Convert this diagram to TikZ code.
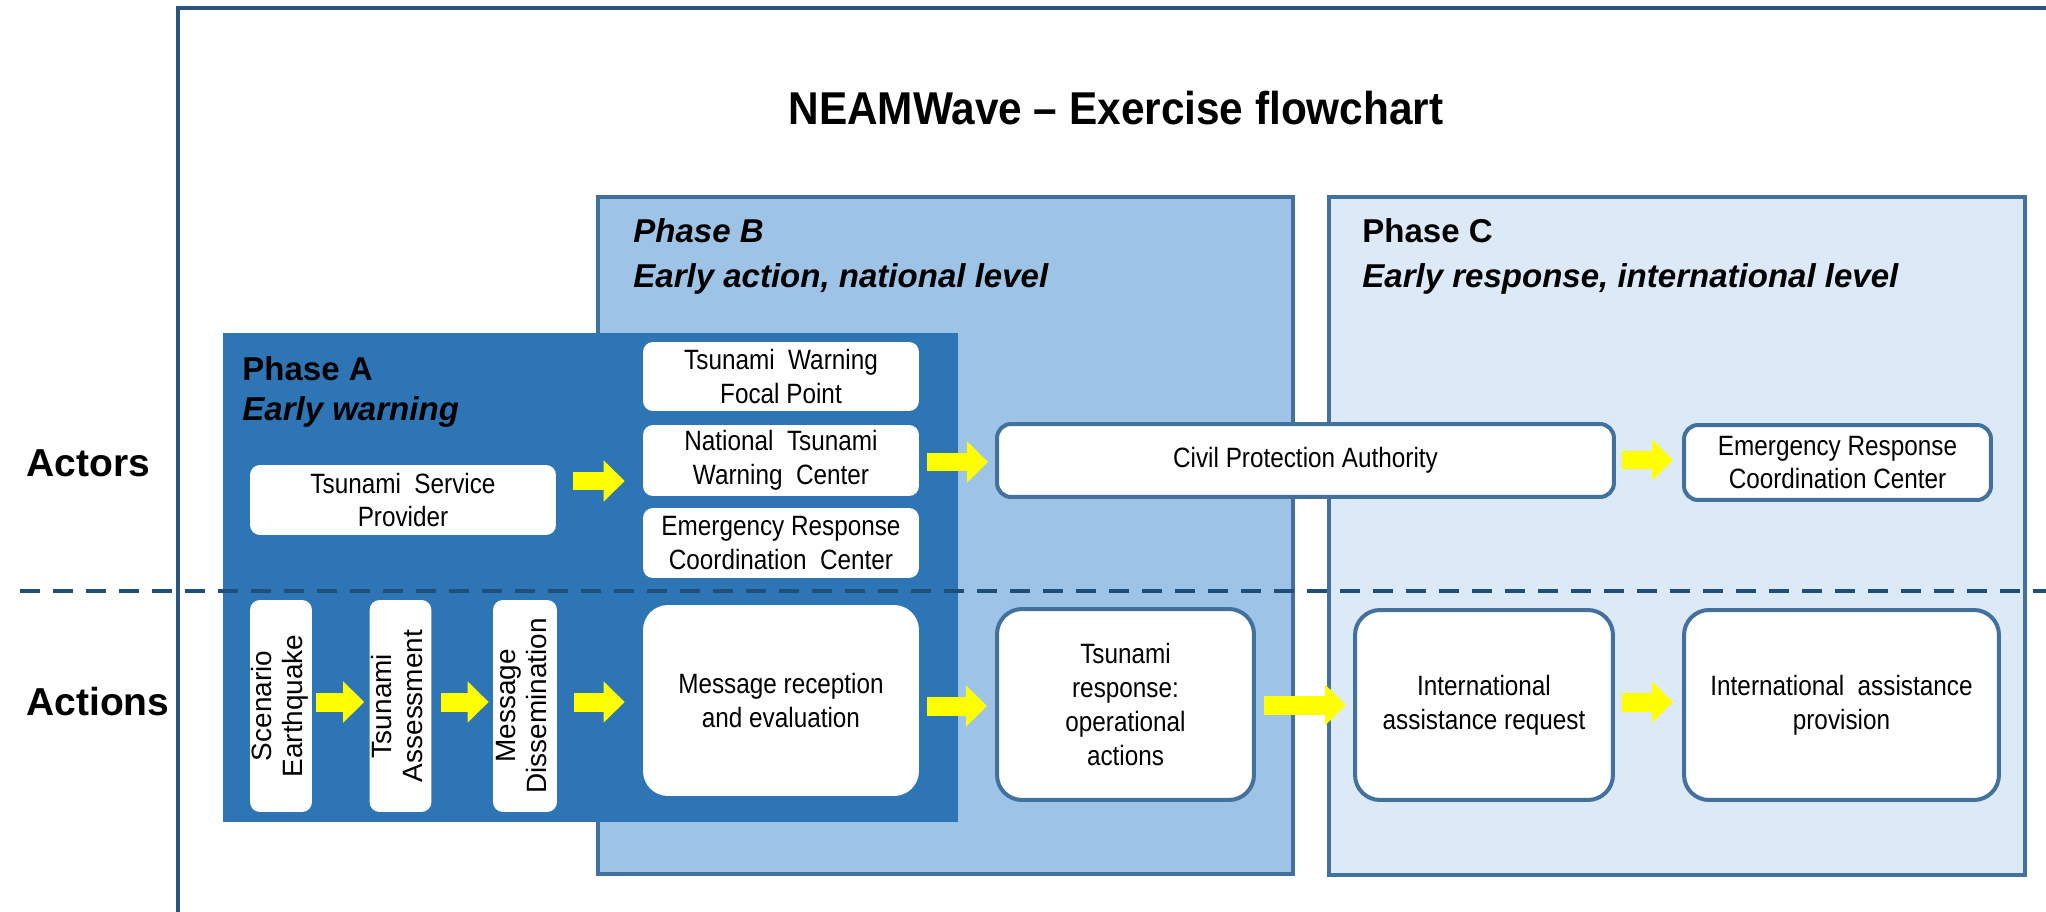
\documentclass[tikz,border=0pt]{standalone}
\usepackage{fontspec}
\usepackage{graphicx}
\setmainfont{Liberation Sans}
\newfontfamily\narrowf[FakeStretch=0.87]{Liberation Sans}
\newfontfamily\titlef[FakeStretch=0.92]{Liberation Sans}
\usetikzlibrary{arrows.meta}
\definecolor{frameblue}{HTML}{2B5481}
\definecolor{phaseA}{HTML}{2E75B6}
\definecolor{phaseB}{HTML}{9DC3E6}
\definecolor{phaseC}{HTML}{DCE9F6}
\definecolor{edgeblue}{HTML}{41719C}
\definecolor{dashblue}{HTML}{1F4E79}
\definecolor{arrowyellow}{HTML}{FFFF00}
\begin{document}
\begin{tikzpicture}[x=0.02cm,y=-0.02cm,
  box/.style={fill=white, rounded corners=0.2cm, inner sep=0pt, align=center,
    font=\narrowf\fontsize{15.9}{19.3}\selectfont},
  bbox/.style={box, draw=edgeblue, line width=0.08cm, rounded corners=0.28cm},
  bigbox/.style={box, rounded corners=0.5cm},
  bigbbox/.style={bbox, rounded corners=0.5cm},
  vbox/.style={fill=white, rounded corners=0.2cm, inner sep=0pt,
    font=\fontsize{15.9}{17.6}\selectfont},
  yarr/.style={arrowyellow, line width=0.38cm, -{Triangle[length=0.42cm,width=0.8cm]}},
  phasehead/.style={anchor=base west, inner sep=0pt, font=\bfseries\fontsize{18.8}{22}\selectfont},
  phaseheadit/.style={phasehead, font=\bfseries\itshape\fontsize{18.8}{22}\selectfont},
  rowlabel/.style={anchor=base west, inner sep=0pt, font=\bfseries\fontsize{22.2}{26}\selectfont}]
\clip (0,0) rectangle (2046,912);
\fill[white] (0,0) rectangle (2046,912);
% outer frame
\draw[frameblue, line width=0.08cm] (178,1000) -- (178,8) -- (2100,8);
% title
\node[anchor=base, inner sep=0pt, font=\titlef\bfseries\fontsize{26.2}{30}\selectfont] (title) at (1116,125) {NEAMWave – Exercise flowchart};
% phase panels
\draw[fill=phaseB, draw=edgeblue, line width=0.08cm] (598,197) rectangle (1293,874);
\draw[fill=phaseC, draw=edgeblue, line width=0.08cm] (1329,197) rectangle (2025,875);
\fill[phaseA] (223,333) rectangle (958,822);
% phase headings
\node[phasehead] (pa) at (242,380) {Phase A};
\node[phaseheadit] (pae) at (242,420) {Early warning};
\node[phaseheadit] (pb) at (633,243) {Phase B};
\node[phaseheadit] (pbe) at (633,288) {Early action, national level};
\node[phasehead] (pc) at (1362,243) {Phase C};
\node[phaseheadit] (pce) at (1362,288) {Early response, international level};
% row labels
\node[rowlabel] (actors) at (26,476) {Actors};
\node[rowlabel] (actions) at (26,715) {Actions};
% dashed separator
\draw[dashblue, line width=0.09cm, dash pattern=on 0.4cm off 0.26cm] (20,591) -- (2046,591);
% actor nodes
\node[box, minimum width=6.12cm, minimum height=1.40cm] (tsp) at (403,500) {Tsunami\ \ Service\\Provider};
\node[box, minimum width=5.52cm, minimum height=1.38cm] (twfp) at (781,376.5) {Tsunami\ \ Warning\\Focal Point};
\node[box, minimum width=5.52cm, minimum height=1.42cm] (ntwc) at (781,460.5) {National\ \ Tsunami\\Warning\ \ Center};
\node[box, minimum width=5.52cm, minimum height=1.40cm] (ercca) at (781,543) {Emergency Response\\Coordination\ \ Center};
\node[bbox, minimum width=12.34cm, minimum height=1.46cm] (cpa) at (1305.5,460.5) {Civil Protection Authority};
\node[bbox, minimum width=6.14cm, minimum height=1.50cm] (erccc) at (1837.5,462.5) {Emergency Response\\Coordination Center};
% action nodes
\node[vbox, minimum width=1.24cm, minimum height=4.24cm] (se) at (281,706) {\rotatebox{90}{\begin{tabular}{@{}c@{}}Scenario\\Earthquake\end{tabular}}};
\node[vbox, minimum width=1.22cm, minimum height=4.24cm] (ta) at (400.5,706) {\rotatebox{90}{\begin{tabular}{@{}c@{}}Tsunami\\Assessment\end{tabular}}};
\node[vbox, minimum width=1.28cm, minimum height=4.24cm] (md) at (525,706) {\rotatebox{90}{\begin{tabular}{@{}c@{}}Message\\Dissemination\end{tabular}}};
\node[bigbox, minimum width=5.52cm, minimum height=3.82cm] (mr) at (781,700.5) {Message reception\\and evaluation};
\node[bigbbox, minimum width=5.14cm, minimum height=3.82cm] (tr) at (1125.5,704.5) {Tsunami\\response:\\operational\\actions};
\node[bigbbox, minimum width=5.16cm, minimum height=3.80cm] (iar) at (1484,705) {International\\assistance request};
\node[bigbbox, minimum width=6.30cm, minimum height=3.80cm] (iap) at (1841.5,705) {International\ \ assistance\\provision};
% arrow levels
\coordinate (l1) at (0,481);
\coordinate (l2) at (0,462);
\coordinate (l3) at (0,460);
\coordinate (l4) at (0,702);
\coordinate (l5) at (0,706);
\coordinate (l6) at (0,705);
% arrows
\draw[yarr, shorten <=0.34cm, shorten >=0.36cm] (tsp.east |- l1) -- (ntwc.west |- l1);
\draw[yarr, shorten <=0.16cm, shorten >=0.14cm] (ntwc.east |- l2) -- (cpa.west |- l2);
\draw[yarr, shorten <=0.12cm, shorten >=0.18cm] (cpa.east |- l3) -- (erccc.west |- l3);
\draw[yarr, shorten <=0.08cm, shorten >=0.10cm] (se.east |- l4) -- (ta.west |- l4);
\draw[yarr, shorten <=0.18cm, shorten >=0.08cm] (ta.east |- l4) -- (md.west |- l4);
\draw[yarr, shorten <=0.34cm, shorten >=0.36cm] (md.east |- l4) -- (mr.west |- l4);
\draw[yarr, shorten <=0.16cm, shorten >=0.16cm] (mr.east |- l5) -- (tr.west |- l5);
\draw[yarr, shorten <=0.16cm, shorten >=0.14cm] (tr.east |- l6) -- (iar.west |- l6);
\draw[yarr, shorten <=0.14cm, shorten >=0.18cm] (iar.east |- l4) -- (iap.west |- l4);
\end{tikzpicture}
\end{document}
